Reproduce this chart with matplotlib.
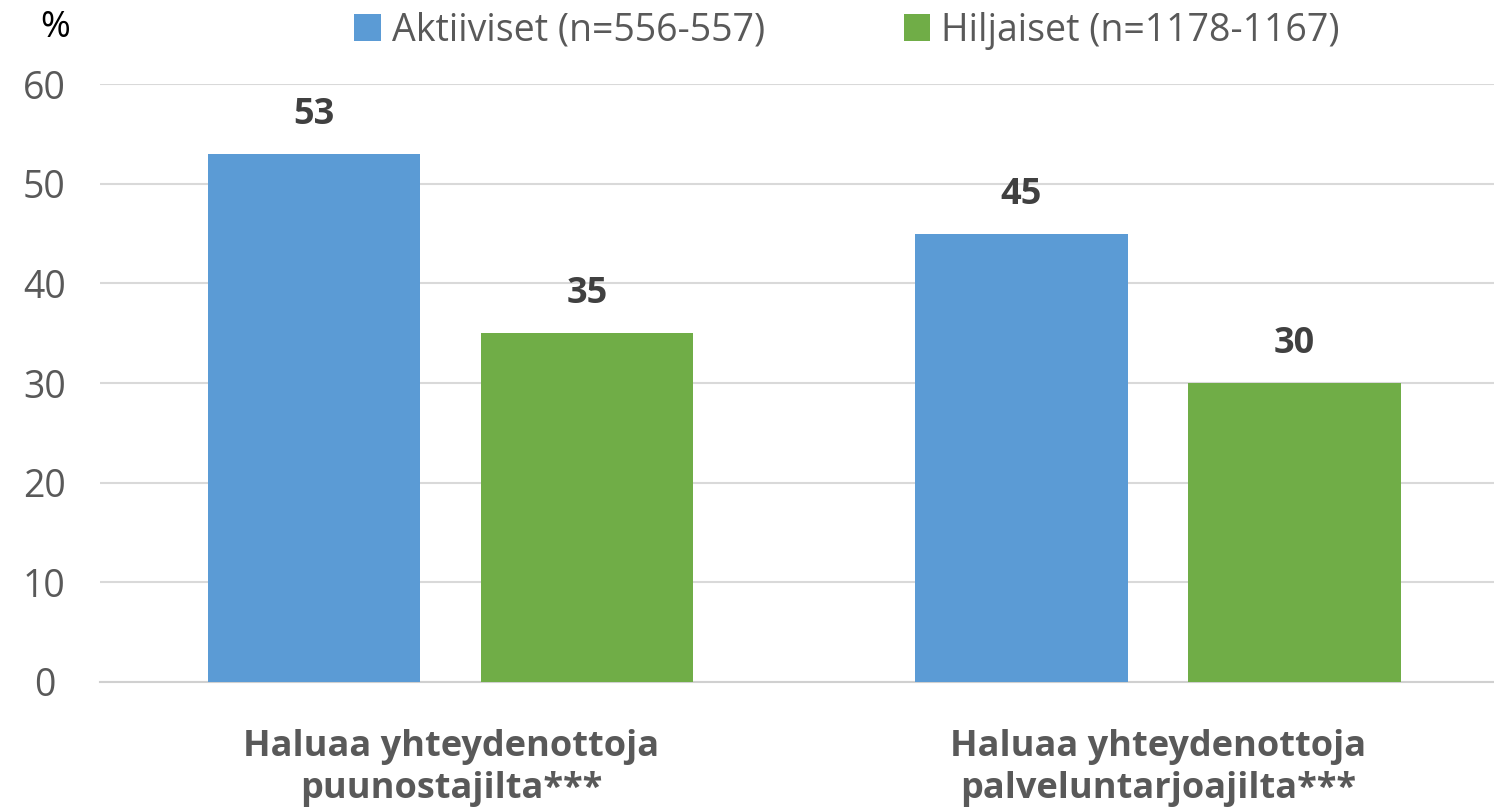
import matplotlib.pyplot as plt
import numpy as np

plt.rcParams['font.family'] = ['Open Sans', 'DejaVu Sans']

categories = ['Haluaa yhteydenottoja\npuunostajilta***',
              'Haluaa yhteydenottoja\npalveluntarjoajilta***']
series_names = ['Aktiiviset (n=556-557)', 'Hiljaiset (n=1178-1167)']
aktiiviset = [53, 45]
hiljaiset = [35, 30]
yticks = [0, 10, 20, 30, 40, 50, 60]

colors = ['#5B9BD5', '#70AD47']
grey = '#595959'

fig = plt.figure(figsize=(14.94, 8.09), dpi=100)
ax = fig.add_axes([0.0669, 0.157, 0.9331, 0.739])

x = np.arange(len(categories))
w = 0.30
off = 0.193
b1 = ax.bar(x - off, aktiiviset, w, color=colors[0], label=series_names[0], zorder=3)
b2 = ax.bar(x + off, hiljaiset, w, color=colors[1], label=series_names[1], zorder=3)

for bars in (b1, b2):
    for r in bars:
        ax.annotate(f'{r.get_height():.0f}', (r.get_x() + r.get_width() / 2, r.get_height()),
                    xytext=(0, 28), textcoords='offset points', ha='center', va='center',
                    fontsize=26, fontweight='bold', color='#404040')

ax.set_xlim(-0.496, 1.475)
ax.set_ylim(0, 60)
ax.set_yticks(yticks)
ax.yaxis.grid(True, color='#D9D9D9', linewidth=1.5, zorder=0)
ax.set_axisbelow(True)
for s in ['top', 'right', 'left']:
    ax.spines[s].set_visible(False)
ax.spines['bottom'].set_color('#D0D0D0')
ax.spines['bottom'].set_linewidth(1.5)
ax.tick_params(axis='y', length=0, labelsize=27, labelcolor=grey, pad=40)
ax.tick_params(axis='x', length=0, pad=34)
ax.set_xticks(x)
ax.set_xticklabels(categories, fontsize=26, fontweight='bold', color=grey, linespacing=1.2)
for lab in ax.get_yticklabels():
    lab.set_horizontalalignment('center')

fig.text(0.0368, 0.966, '%', fontsize=26, color='black', ha='center', va='center')

fig.legend(loc='center', bbox_to_anchor=(0.567, 0.962), ncol=2, frameon=False,
           fontsize=27, labelcolor=grey, handlelength=0.7, handleheight=0.7,
           handletextpad=0.3, columnspacing=3.7)

fig.savefig('out.png', dpi=100)
